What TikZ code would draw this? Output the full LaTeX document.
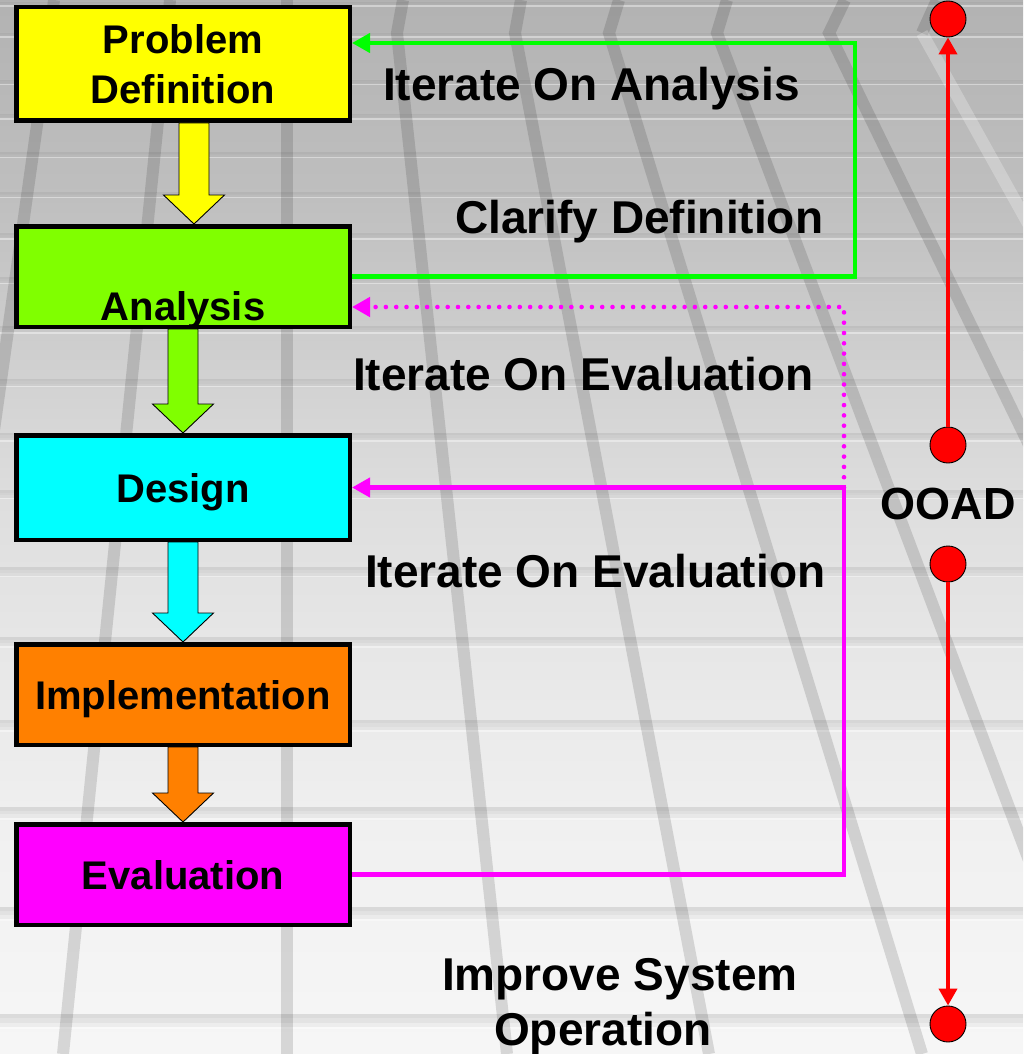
\documentclass[tikz,border=0pt]{standalone}
\usepackage{fontspec}
\setmainfont{Liberation Sans}
\usetikzlibrary{arrows.meta,calc}

\definecolor{defyellow}{RGB}{255,255,0}
\definecolor{anagreen}{RGB}{128,255,0}
\definecolor{descyan}{RGB}{0,255,255}
\definecolor{imporange}{RGB}{255,128,0}
\definecolor{evalmagenta}{RGB}{255,0,255}
\definecolor{loopgreen}{RGB}{0,255,0}
\definecolor{ooadred}{RGB}{255,0,0}

% fat down arrow from the bottom of one stage box to the top of the next
\newcommand\stagearrow[4]{%
  \draw[blockarrow, fill=#4] let \p1=(#1.south), \p2=(#2.north) in
    ({\x1+#3-15pt},\y1) -- ({\x1+#3-15pt},{\y2+29pt}) -- ({\x1+#3-30.5pt},{\y2+29pt})
    -- ({\x1+#3},\y2) -- ({\x1+#3+30.5pt},{\y2+29pt}) -- ({\x1+#3+15pt},{\y2+29pt})
    -- ({\x1+#3+15pt},\y1) -- cycle;}

\begin{document}
\begin{tikzpicture}[x=1pt,y=-1pt,
  box/.style={draw=black, line width=4.5pt, inner sep=0pt, minimum width=333.5pt,
    align=center, font=\fontsize{40}{50}\selectfont\bfseries,
    text height=29pt, text depth=0pt},
  lbl/.style={anchor=base west, inner sep=0pt, font=\fontsize{46}{55}\selectfont\bfseries},
  blockarrow/.style={draw=black, line width=0.9pt, line join=miter},
  loopline/.style={line width=4.2pt, line join=miter, -{Triangle[width=19pt,length=18pt]}},
  dotline/.style={line width=4.6pt, line cap=round, dash pattern=on 0pt off 10.3pt},
  reddot/.style={circle, fill=ooadred, draw=black, line width=0.9pt, minimum size=36pt, inner sep=0pt},
  ooadspan/.style={draw=ooadred, line width=3.8pt, -{Triangle[width=18pt,length=17pt]}},
  gridline/.style={line width=12pt, black, opacity=0.13},
]
\useasboundingbox (0,0) rectangle (1023,1054);

% ---- perspective floor in the background ----
\begin{scope}
  \clip (0,0) rectangle (1023,1054);
  \shade[top color=black!30, bottom color=black!25] (0,0) rectangle (1023,200.5);
  \shade[top color=black!25, bottom color=black!19] (0,200) rectangle (1023,350.5);
  \shade[top color=black!19, bottom color=black!13] (0,350) rectangle (1023,500.5);
  \shade[top color=black!13, bottom color=black!9] (0,500) rectangle (1023,670.5);
  \shade[top color=black!9, bottom color=black!5.5] (0,670) rectangle (1023,850.5);
  \shade[top color=black!5.5, bottom color=black!3.5] (0,850) rectangle (1023,1054);
  % horizontal ribs: a shadowed band closed by a light edge
  \foreach \t in {2,33,80,114,152,192,233,277,326,379,433,490,567,637,720,807,907,1014}{
    \pgfmathsetmacro\h{3+\t/100}
    \pgfmathsetmacro\k{0.04+0.07*\t/1054}
    \fill[black, opacity=\k] (0,\t) rectangle (1023,{\t+\h/3});
    \fill[black, opacity={0.65*\k}] (0,{\t+\h/3}) rectangle (1023,{\t+2*\h/3});
    \fill[black, opacity={0.3*\k}] (0,{\t+2*\h/3}) rectangle (1023,{\t+\h});
    \fill[white, opacity=0.4] (0,{\t+\h}) rectangle (1023,{\t+\h+1.5});
  }
  % receding rails
  \draw[gridline] (54,0) -- (50,33) -- (-94,1054);
  \draw[gridline] (170,0) -- (167,33) -- (63,1054);
  \draw[gridline] (287,0) -- (287,1054);
  \draw[gridline] (403,0) -- (397,33) -- (507,1054);
  \draw[gridline] (521,0) -- (515,33) -- (709,1054);
  \draw[gridline] (619,0) -- (609,33) -- (922,1054);
  \draw[gridline] (727,0) -- (717,33) -- (1102,1054);
  \draw[gridline] (845,0) -- (829,33) -- (1325,1054);
  \draw[gridline] (937,0) -- (922,33);
  \draw[gridline, white, opacity=0.25] (922,33) -- (1490,1054);
\end{scope}

% ---- stages ----
\node[box, fill=defyellow, minimum height=113.5pt, text height=79pt] (pd) at (183,64) {Problem\\Definition};
\node[box, fill=anagreen, minimum height=100.5pt, text height=92pt, text depth=5pt] (an) at (183,276.5) {Analysis};
\node[box, fill=descyan, minimum height=104.5pt] (ds) at (183,487.5) {Design};
\node[box, fill=imporange, minimum height=100.5pt] (im) at (183,694.5) {Implementation};
\node[box, fill=evalmagenta, minimum height=100.5pt] (ev) at (183,874.5) {Evaluation};

\stagearrow{pd}{an}{11pt}{defyellow}
\stagearrow{an}{ds}{0pt}{anagreen}
\stagearrow{ds}{im}{0pt}{descyan}
\stagearrow{im}{ev}{0pt}{imporange}

% ---- feedback loops ----
\coordinate (gturn) at (855,43);
\coordinate (mturn) at (844,487.5);
\coordinate (mdot) at (844,307);
\draw[loopline, draw=loopgreen] (an.east) -| (gturn) -- (pd.east |- gturn);
\draw[loopline, draw=evalmagenta] (ev.east) -| (mturn) -- (ds.east);
\draw[loopline, dotline, draw=evalmagenta] (mturn) -- (mdot) -- (an.east |- mdot);

% ---- OOAD span ----
\node[reddot] (d1) at (948,19) {};
\node[reddot] (d2) at (948,445) {};
\node[reddot] (d3) at (948,564) {};
\node[reddot] (d4) at (948,1024) {};
\draw[ooadspan] (d2) -- (d1);
\draw[ooadspan] (d3) -- (d4);
\node[anchor=base, inner sep=0pt, font=\fontsize{45}{54}\selectfont\bfseries] (ooad) at (948,519) {OOAD};

% ---- labels ----
\node[lbl] (itana) at (383,101) {Iterate On Analysis};
\node[lbl] (clar) at (455,233) {Clarify Definition};
\node[lbl] (iteva1) at (353,390) {Iterate On Evaluation};
\node[lbl] (iteva2) at (365,587) {Iterate On Evaluation};
\node[lbl, align=left] (improve) at (442,1045) {Improve System\\\hspace*{52pt}Operation};
\end{tikzpicture}
\end{document}
